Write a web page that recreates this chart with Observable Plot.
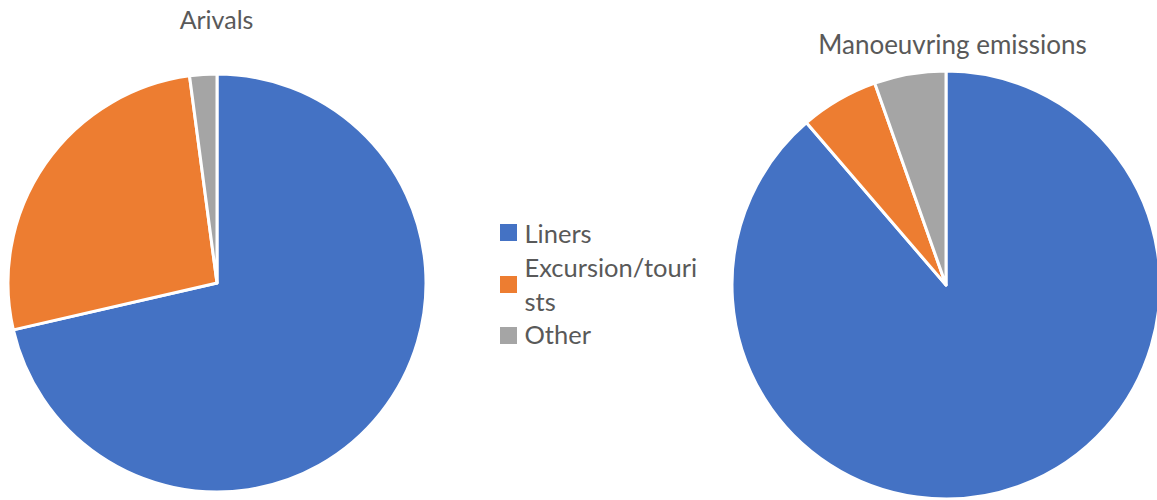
<!DOCTYPE html>
<html><head><meta charset="utf-8">
<script src="https://cdn.jsdelivr.net/npm/d3@7"></script>
<script src="https://cdn.jsdelivr.net/npm/@observablehq/plot@0.6"></script>
<style>body{margin:0;background:#fff}</style>
</head><body><div id="chart"></div>
<script>
// ---- data ----
const categories = ["Liners", "Excursion/tourists", "Other"];
const arrivals = [71.4, 26.5, 2.1];
const emissions = [88.7, 5.9, 5.4];
const pieTitles = ["Arivals", "Manoeuvring emissions"];
const legendLabels = ["Liners", "Excursion/touri\nsts", "Other"];
const colors = ["#4472C4", "#ED7D31", "#A5A5A5"];

// ---- layout ----
const W = 1157, H = 500;
const FONT = "Lato, 'Open Sans', sans-serif";
const TEXT = "#595959";
const pies = [
  {title: pieTitles[0], values: arrivals, cx: 217, cy: 283, r: 209, tx: 216, ty: 28, fs: 25},
  {title: pieTitles[1], values: emissions, cx: 946, cy: 285, r: 214, tx: 952, ty: 53, fs: 26}
];

// slice table built from the arrays
const pieGen = d3.pie().sort(null).value(d => d.value);
const slices = pies.flatMap((p, i) =>
  pieGen(categories.map((c, j) => ({pie: i, category: c, value: p.values[j]})))
    .map(a => ({...a, pie: i, category: a.data.category}))
);

function pieMark(data) {
  return (index, scales) => {
    const sx = typeof scales.x === "function" ? scales.x : (v => v);
    const sy = typeof scales.y === "function" ? scales.y : (v => v);
    const col = typeof scales.color === "function" ? scales.color : (c => colors[categories.indexOf(c)]);
    const g = d3.create("svg:g");
    g.selectAll("path").data(data).join("path")
      .attr("transform", d => `translate(${sx(pies[d.pie].cx)},${sy(pies[d.pie].cy)})`)
      .attr("d", d => d3.arc().innerRadius(0).outerRadius(pies[d.pie].r)(d))
      .attr("fill", d => col(d.category))
      .attr("stroke", "white")
      .attr("stroke-width", 3)
      .attr("stroke-linejoin", "round");
    return g.node();
  };
}

const legendRows = legendLabels.map((l, i) => ({category: categories[i], label: l,
  sy: [232, 284, 335][i], ty: [242, 310, 343][i]}));

const chart = Plot.plot({
  width: W, height: H,
  margin: 0,
  x: {domain: [0, W], range: [0, W], axis: null},
  y: {domain: [0, H], range: [0, H], axis: null},
  color: {domain: categories, range: colors},
  style: {fontFamily: FONT, background: "white"},
  marks: [
    pieMark(slices),
    Plot.text(pies, {x: "tx", y: "ty", text: "title", textAnchor: "middle", lineAnchor: "bottom",
      fontSize: d => d.fs, fill: TEXT}),
    Plot.dot(legendRows, {x: () => 508, y: "sy", symbol: "square", r: 9.6, fill: "category", stroke: null}),
    Plot.text(legendRows, {x: () => 524, y: "ty", text: "label", textAnchor: "start", lineAnchor: "bottom",
      lineHeight: 1.3, fontSize: 25.5, fill: TEXT})
  ]
});
document.getElementById("chart").append(chart);
</script>
</body></html>
